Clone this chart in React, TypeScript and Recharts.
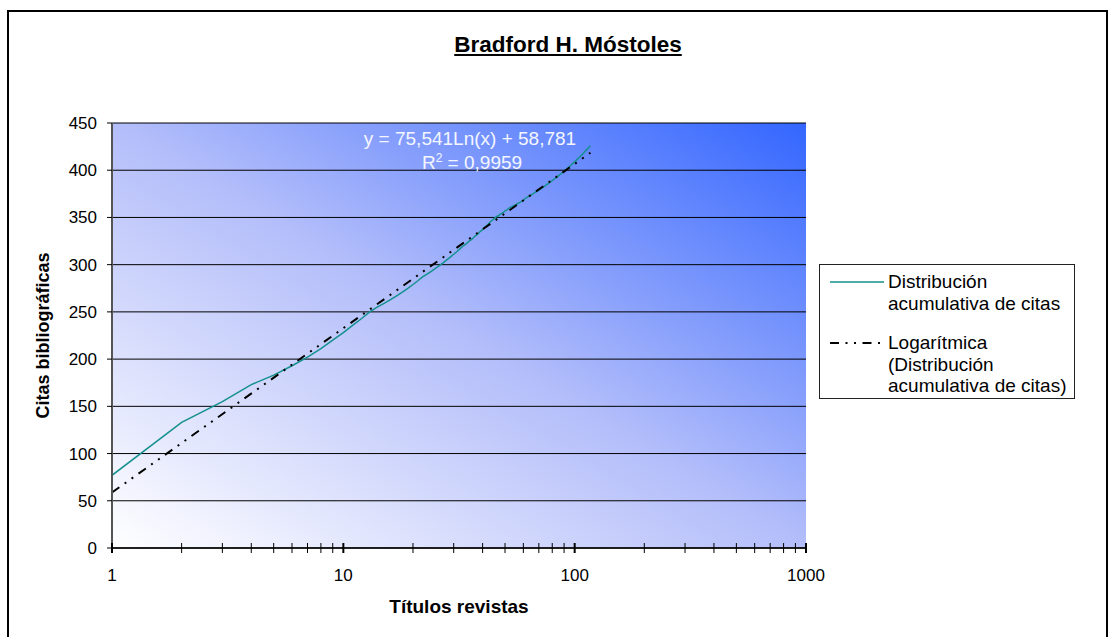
import { LineChart, Line, XAxis, YAxis, CartesianGrid, Legend } from 'recharts'

// Citas acumuladas por título de revista (rango 1..117)
const citasAcumuladas = [
  77, 133, 155, 173, 183, 193, 202, 211, 220, 228,
  236, 243, 250, 255, 259, 263, 267, 271, 275, 279,
  283, 287, 290, 293, 296, 299, 302, 305, 308, 311,
  314, 317, 320, 322, 325, 327, 330, 332, 335, 337,
  340, 342, 345, 347, 349, 351, 352, 354, 355, 357,
  358, 360, 361, 362, 363, 364, 365, 366, 367, 368,
  370, 371, 372, 373, 374, 375, 376, 377, 378, 379,
  380, 381, 382, 383, 384, 385, 386, 387, 388, 389,
  390, 391, 392, 393, 394, 395, 396, 397, 398, 399,
  400, 401, 402, 403, 404, 405, 406, 407, 408, 409,
  410, 411, 412, 413, 414, 415, 416, 417, 418, 419,
  420, 421, 422, 423, 424, 425, 426,
]

// Tendencia logarítmica: recta en eje log (extremos)
const tendenciaX = [1, 117]
const tendenciaY = [58.8, 418.5]

const yTicks = [0, 50, 100, 150, 200, 250, 300, 350, 400, 450]
const xTicks = [
  1, 2, 3, 4, 5, 6, 7, 8, 9,
  10, 20, 30, 40, 50, 60, 70, 80, 90,
  100, 200, 300, 400, 500, 600, 700, 800, 900,
  1000,
]
const xMajor = [1, 10, 100, 1000]

const serieDistribucion = citasAcumuladas.map((v, i) => ({ n: i + 1, v }))
const serieTendencia = tendenciaX.map((n, i) => ({ n, v: tendenciaY[i] }))

const FONT = '"Liberation Sans", Arial, sans-serif'
const TREND_DASH = '9 6.5 2 6.5 2 6.5'

function XTick(props: any) {
  const { x, y, payload } = props
  const major = xMajor.includes(payload.value)
  return (
    <g>
      <line x1={x} x2={x} y1={y - 5} y2={y + 5} stroke="#000" strokeWidth={major ? 2 : 1} />
      {major && (
        <text x={x} y={y + 33} textAnchor="middle" fontSize={17} fill="#000" fontFamily={FONT}>
          {payload.value}
        </text>
      )}
    </g>
  )
}

function renderLegend(props: any) {
  const items = props.payload || []
  return (
    <div
      style={{
        width: 256,
        boxSizing: 'border-box',
        border: '1px solid #222',
        background: '#fff',
        padding: '6px 0 1px 0',
        fontSize: 19,
        lineHeight: '21.5px',
        fontFamily: FONT,
        color: '#000',
      }}
    >
      {items.map((item: any, i: number) => (
        <div key={i} style={{ display: 'flex', marginTop: i ? 18 : 0 }}>
          <svg width={54} height={21} style={{ marginLeft: 10, marginRight: 4, flex: 'none' }}>
            <line
              x1={0}
              x2={54}
              y1={11}
              y2={11}
              stroke={item.color}
              strokeWidth={i ? 2 : 1.5}
              strokeDasharray={i ? TREND_DASH : undefined}
            />
          </svg>
          <div style={{ width: 182 }}>{item.value}</div>
        </div>
      ))}
    </div>
  )
}

export default function App() {
  return (
    <div
      style={{
        position: 'absolute',
        left: 0,
        top: 0,
        width: 1113,
        height: 637,
        overflow: 'hidden',
        background: '#fff',
        fontFamily: FONT,
      }}
    >
      <div
        style={{
          position: 'absolute',
          left: 7,
          top: 10,
          width: 1101,
          height: 700,
          border: '2px solid #000',
          boxSizing: 'border-box',
        }}
      />
      <div
        style={{
          position: 'absolute',
          left: 568,
          top: 32,
          transform: 'translateX(-50%)',
          fontSize: 22.5,
          lineHeight: '26px',
          fontWeight: 'bold',
          textDecoration: 'underline',
          whiteSpace: 'nowrap',
          color: '#000',
        }}
      >
        Bradford H. Móstoles
      </div>
      <div style={{ position: 'absolute', left: 0, top: 0 }}>
        <LineChart
          width={1113}
          height={637}
          margin={{ top: 123, right: 51, left: 32, bottom: 19 }}
          style={{ fontFamily: FONT }}
        >
          <defs>
            <linearGradient id="plotBg" x1="0" y1="1" x2="1" y2="0">
              <stop offset="0" stopColor="#ffffff" />
              <stop offset="0.5" stopColor="#b4befa" />
              <stop offset="1" stopColor="#3366ff" />
            </linearGradient>
          </defs>
          <CartesianGrid
            vertical={false}
            stroke="#000"
            strokeWidth={1}
            fill="url(#plotBg)"
            fillOpacity={1}
          />
          <XAxis
            dataKey="n"
            type="number"
            scale="log"
            domain={[1, 1000]}
            ticks={xTicks}
            interval={0}
            allowDataOverflow
            height={70}
            tickSize={0}
            tickMargin={0}
            tickLine={false}
            tick={<XTick />}
            axisLine={{ stroke: '#000', strokeWidth: 1.5 }}
            label={{
              value: 'Títulos revistas',
              position: 'insideBottom',
              offset: 5,
              style: { fontSize: 19, fontWeight: 'bold', fill: '#000', fontFamily: FONT },
            }}
          />
          <YAxis
            type="number"
            domain={[0, 450]}
            ticks={yTicks}
            interval={0}
            width={80}
            tickSize={5}
            tickMargin={10}
            tick={{ fontSize: 17, fill: '#000', fontFamily: FONT }}
            tickLine={{ stroke: '#000' }}
            axisLine={{ stroke: '#555', strokeWidth: 2 }}
            label={{
              value: 'Citas bibliográficas',
              angle: -90,
              position: 'insideLeft',
              offset: 11,
              style: { textAnchor: 'middle', fontSize: 18, fontWeight: 'bold', fill: '#000', fontFamily: FONT },
            }}
          />
          <Legend
            layout="vertical"
            align="right"
            verticalAlign="middle"
            content={renderLegend}
            wrapperStyle={{ left: 819, top: 264, right: 'auto' }}
          />
          <Line
            data={serieDistribucion}
            dataKey="v"
            name="Distribución acumulativa de citas"
            type="linear"
            stroke="#14908f"
            strokeWidth={1.5}
            dot={false}
            activeDot={false}
            isAnimationActive={false}
          />
          <Line
            data={serieTendencia}
            dataKey="v"
            name="Logarítmica (Distribución acumulativa de citas)"
            type="linear"
            stroke="#000"
            strokeWidth={2}
            strokeDasharray={TREND_DASH}
            dot={false}
            activeDot={false}
            isAnimationActive={false}
          />
          <text x={470} y={145} textAnchor="middle" fontSize={19} fill="#f4f6ff" fontFamily={FONT}>
            y = 75,541Ln(x) + 58,781
          </text>
          <text x={472} y={169} textAnchor="middle" fontSize={19} fill="#f4f6ff" fontFamily={FONT}>
            R<tspan dy={-7} fontSize={12}>2</tspan>
            <tspan dy={7}> = 0,9959</tspan>
          </text>
        </LineChart>
      </div>
    </div>
  )
}
